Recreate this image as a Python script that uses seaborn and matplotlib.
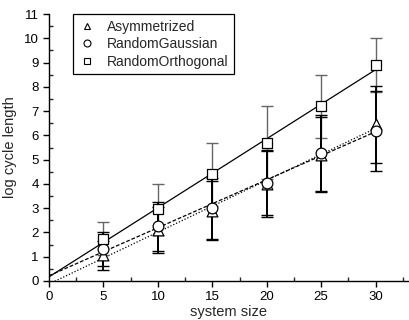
import numpy as np
import pandas as pd
import seaborn as sns
import matplotlib.pyplot as plt
from matplotlib.ticker import MultipleLocator
from matplotlib.lines import Line2D

# data
sizes = [5, 10, 15, 20, 25, 30]
asym = [1.05, 2.1, 2.9, 4.0, 5.2, 6.45]
asym_err = [0.6, 0.95, 1.2, 1.35, 1.55, 1.6]
gauss = [1.3, 2.25, 3.0, 4.05, 5.27, 6.2]
gauss_err = [0.7, 1.0, 1.25, 1.35, 1.55, 1.65]
ortho = [1.75, 2.95, 4.4, 5.7, 7.2, 8.9]
ortho_err = [0.7, 1.05, 1.3, 1.5, 1.3, 1.1]

names = ['Asymmetrized', 'RandomGaussian', 'RandomOrthogonal']
markers = {'Asymmetrized': '^', 'RandomGaussian': 'o', 'RandomOrthogonal': 's'}
fit_styles = {'Asymmetrized': (0, (1, 1.5)), 'RandomGaussian': (0, (3, 1.5)), 'RandomOrthogonal': '-'}
err_colors = {'Asymmetrized': 'black', 'RandomGaussian': 'black', 'RandomOrthogonal': '#666666'}

df = pd.concat([
    pd.DataFrame({'n': sizes, 'y': v, 'err': e, 'model': m})
    for v, e, m in zip([asym, gauss, ortho], [asym_err, gauss_err, ortho_err], names)
])

sns.set_style('ticks')
plt.rcParams['font.family'] = ['Liberation Sans', 'DejaVu Sans']

fig = plt.figure(figsize=(4.09, 3.2), dpi=100)
ax = fig.add_axes([0.12, 0.122, 0.878, 0.834])

# linear fits from 0 to 30
xs = np.array([0, 30])
for m in names:
    d = df[df.model == m]
    k, b = np.polyfit(d.n, d.y, 1)
    fit = pd.DataFrame({'n': xs, 'y': k * xs + b})
    sns.lineplot(data=fit, x='n', y='y', ax=ax, color='black', lw=0.9,
                 linestyle=fit_styles[m], zorder=2)

for m in ['RandomOrthogonal', 'RandomGaussian', 'Asymmetrized']:
    d = df[df.model == m]
    ax.errorbar(d.n, d.y, yerr=d.err, fmt='none', ecolor=err_colors[m],
                elinewidth=1.3 if m != 'RandomOrthogonal' else 1.0,
                capsize=4, capthick=1.0, zorder=3)

for m in names:
    d = df[df.model == m]
    sns.scatterplot(data=d, x='n', y='y', marker=markers[m], s=60,
                    facecolor='white', edgecolor='black', linewidth=0.9,
                    ax=ax, zorder=4)

ax.set_xlim(0, 33)
ax.set_ylim(0, 11)
ax.xaxis.set_major_locator(MultipleLocator(5))
ax.xaxis.set_minor_locator(MultipleLocator(2.5))
ax.yaxis.set_major_locator(MultipleLocator(1))
ax.yaxis.set_minor_locator(MultipleLocator(0.5))
ax.tick_params(which='major', direction='out', length=4, width=1, labelsize=9.5, colors='black')
ax.tick_params(which='minor', direction='in', length=3, width=1)
for s in ['top', 'right']:
    ax.spines[s].set_visible(False)
for s in ['left', 'bottom']:
    ax.spines[s].set_linewidth(1)
    ax.spines[s].set_color('black')
ax.set_xlabel('system size', fontsize=10.5, labelpad=1)
ax.set_ylabel('log cycle length', fontsize=10.5, labelpad=5)

handles = [Line2D([], [], marker=markers[m], linestyle='none', markersize=5,
                  markerfacecolor='white', markeredgecolor='black', markeredgewidth=0.8)
           for m in names]
leg = ax.legend(handles, names, loc='upper left', bbox_to_anchor=(0.068, 1.0),
                borderaxespad=0, fontsize=10, frameon=True, fancybox=False,
                edgecolor='black', framealpha=1, borderpad=0.4, handletextpad=0.8,
                labelspacing=0.25, handlelength=1.2)
leg.get_frame().set_linewidth(0.9)

fig.savefig('out.png', dpi=100)
